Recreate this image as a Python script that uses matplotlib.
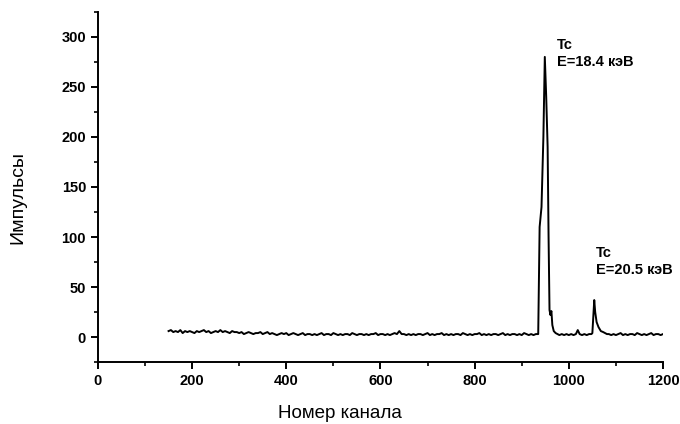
import matplotlib
matplotlib.use("Agg")
import matplotlib.pyplot as plt
from matplotlib.ticker import MultipleLocator

plt.rcParams['font.family'] = ['Liberation Sans', 'DejaVu Sans']

# Baseline channels / counts (sampled every 5 channels)
base_ch = list(range(150, 931, 5))
base_counts = [6, 7, 5, 6, 5, 7, 4, 6, 5, 6, 5, 4, 6, 5, 6, 7, 5, 6, 4, 5,
               6, 5, 7, 5, 6, 5, 4, 6, 5, 5, 4, 5, 3, 4, 5, 4, 3, 4, 4, 5,
               3, 4, 5, 3, 4, 3, 2, 3, 4, 3, 4, 2, 3, 4, 3, 2, 3, 4, 2, 3,
               3, 2, 3, 2, 3, 4, 2, 3, 3, 2, 4, 3, 2, 3, 2, 3, 3, 2, 4, 3,
               2, 3, 3, 2, 3, 2, 3, 3, 4, 2, 3, 3, 2, 3, 2, 3, 4, 3, 6, 3,
               3, 2, 3, 2, 3, 2, 3, 3, 2, 3, 4, 2, 3, 2, 3, 3, 4, 2, 3, 2,
               3, 2, 3, 3, 2, 4, 3, 2, 3, 2, 3, 3, 4, 2, 3, 2, 3, 2, 3, 3,
               2, 3, 4, 2, 3, 2, 3, 3, 2, 3, 2, 4, 3, 2, 3, 2, 3]

peak_ch = [935, 938, 942, 946, 949, 952, 955, 957, 959, 961, 963, 965, 968, 972,
           976, 980, 985, 990, 995, 1000, 1005, 1010, 1015, 1019, 1023, 1028,
           1033, 1038, 1043, 1048, 1050, 1052, 1054, 1056, 1059, 1063, 1068,
           1073, 1077, 1081, 1085]
peak_counts = [3, 110, 130, 200, 280, 240, 190, 100, 27, 22, 26, 12, 6, 4,
               3, 2, 3, 2, 3, 2, 3, 2, 3, 7, 3, 2,
               3, 2, 3, 3, 4, 20, 37, 25, 15, 10, 6,
               5, 4, 3, 3]

tail_ch = list(range(1090, 1201, 5))
tail_counts = [2, 3, 2, 3, 4, 2, 3, 2, 3, 3, 2, 4, 3, 2, 3, 2, 3, 4, 2, 3, 3, 2, 3]

channels = base_ch + peak_ch + tail_ch
counts = base_counts + peak_counts + tail_counts

x_ticks = [0, 200, 400, 600, 800, 1000, 1200]
y_ticks = [0, 50, 100, 150, 200, 250, 300]

fig = plt.figure(figsize=(6.8, 4.24), dpi=100)
ax = fig.add_axes([0.144, 0.146, 0.831, 0.826])
ax.plot(channels, counts, color='black', lw=1.4)

ax.set_xlim(0, 1200)
ax.set_ylim(-25, 325)
ax.set_xticks(x_ticks)
ax.set_yticks(y_ticks)
ax.xaxis.set_minor_locator(MultipleLocator(100))
ax.yaxis.set_minor_locator(MultipleLocator(25))
for s in ['top', 'right']:
    ax.spines[s].set_visible(False)
for s in ['left', 'bottom']:
    ax.spines[s].set_linewidth(1.4)
ax.tick_params(which='major', direction='out', length=5, width=1.4, labelsize=10.5)
ax.tick_params(which='minor', direction='out', length=3, width=1.2)
for lab in ax.get_xticklabels() + ax.get_yticklabels():
    lab.set_fontweight('bold')

ax.set_xlabel('Номер канала', fontsize=13.5)
ax.set_ylabel('Импульсы', fontsize=14)
ax.xaxis.set_label_coords(0.428, -0.123)
ax.yaxis.set_label_coords(-0.126, 0.47)

ax.text(975, 299, 'Tc\nE=18.4 кэВ', fontsize=10.5, fontweight='bold',
        va='top', ha='left', linespacing=1.3)
ax.text(1058, 91, 'Tc\nE=20.5 кэВ', fontsize=10.5, fontweight='bold',
        va='top', ha='left', linespacing=1.3)

fig.savefig('out.png', dpi=100)
